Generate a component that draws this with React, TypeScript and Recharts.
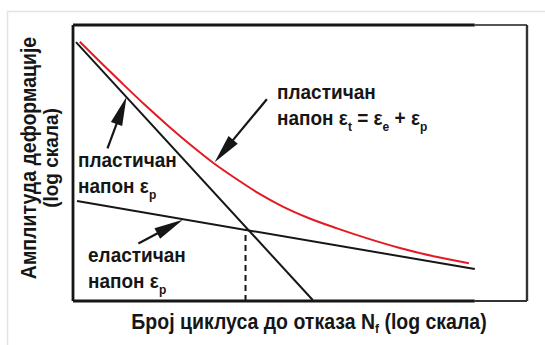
import React from 'react';
import { ComposedChart, Line, XAxis, YAxis, ReferenceLine } from 'recharts';

// Log–log strain-life diagram. Both axes are in relative log units (0–100).

// Plastic strain amplitude line (Coffin–Manson)
const plasticLogN = [0.66, 52.8];
const plasticLogEps = [93.8, 0.36];

// Elastic strain amplitude line (Basquin)
const elasticLogN = [0.88, 88.5];
const elasticLogEps = [36.2, 11.6];

// Total strain amplitude curve
const totalLogN = [1.5, 6, 11, 16, 21, 26, 31, 36, 41, 46, 52, 58, 65, 72, 80, 87.2];
const totalLogEps = [93.9, 86.6, 78.6, 70.8, 63.4, 56.4, 49.9, 44.2, 38.9, 34.4, 30.0, 26.4, 22.6, 19.2, 16.0, 13.7];

// Transition life marker
const transitionLogN = 38;
const transitionLogEps = 25.8;

// Annotation arrows: [tail logN, tail logEps, tip logN, tip logEps]
const arrowTotal = [42.7, 73.1, 31.2, 50.3];
const arrowPlastic = [7.6, 55.3, 11.8, 74.0];
const arrowElastic = [14.4, 20.8, 24.2, 29.4];

const zip = (xs: number[], ys: number[]) => xs.map((x, i) => ({ x, y: ys[i] }));

const plasticData = zip(plasticLogN, plasticLogEps);
const elasticData = zip(elasticLogN, elasticLogEps);
const totalData = zip(totalLogN, totalLogEps);
const transitionData = [
  { x: transitionLogN, y: 0 },
  { x: transitionLogN, y: transitionLogEps },
];

const INK = '#161616';
const RED = '#e31a22';
const FONT = '"Liberation Sans", Arial, Helvetica, sans-serif';

const arrowShape = (props: any) => {
  const { x1, y1, x2, y2 } = props;
  const dx = x2 - x1;
  const dy = y2 - y1;
  const len = Math.hypot(dx, dy);
  const ux = dx / len;
  const uy = dy / len;
  const headLen = 29;
  const halfW = 6;
  const bx = x2 - ux * headLen;
  const by = y2 - uy * headLen;
  const px = -uy;
  const py = ux;
  return (
    <g>
      <line x1={x1} y1={y1} x2={bx + ux * 2} y2={by + uy * 2} stroke={INK} strokeWidth={2.2} />
      <polygon
        points={`${x2},${y2} ${bx + px * halfW},${by + py * halfW} ${bx - px * halfW},${by - py * halfW}`}
        fill={INK}
      />
    </g>
  );
};

const arrow = (a: number[], key: string) => (
  <ReferenceLine
    key={key}
    segment={[
      { x: a[0], y: a[1] },
      { x: a[2], y: a[3] },
    ]}
    shape={arrowShape}
    ifOverflow="visible"
  />
);

const textStyle: React.CSSProperties = {
  fontFamily: FONT,
  fontWeight: 700,
  fontSize: 19,
  fill: INK,
};

const Sub = ({ children }: { children: string }) => (
  <>
    <tspan dy={5} fontSize={12}>
      {children}
    </tspan>
    <tspan dy={-5}> </tspan>
  </>
);

// Bold label, slightly stretched vertically
const Tall = ({
  x,
  y,
  rotate = 0,
  anchor = 'start',
  size = 19,
  children,
}: {
  x: number;
  y: number;
  rotate?: number;
  anchor?: 'start' | 'middle' | 'end';
  size?: number;
  children: React.ReactNode;
}) => (
  <g transform={`translate(${x} ${y}) rotate(${rotate}) scale(1 1.1)`}>
    <text x={0} y={0} textAnchor={anchor} style={{ ...textStyle, fontSize: size }}>
      {children}
    </text>
  </g>
);

export default function App() {
  return (
    <div style={{ position: 'absolute', left: 0, top: 0, width: 545, height: 345, background: '#fff' }}>
      <ComposedChart
        width={545}
        height={345}
        margin={{ top: 25, right: 18, bottom: 44, left: 73 }}
      >
        <XAxis type="number" dataKey="x" domain={[0, 100]} hide allowDataOverflow />
        <YAxis type="number" dataKey="y" domain={[0, 100]} hide allowDataOverflow />

        {/* frame */}
        <ReferenceLine segment={[{ x: 0, y: 100 }, { x: 88.5, y: 100 }]} stroke={INK} strokeWidth={2.8} />
        <ReferenceLine segment={[{ x: 88.5, y: 100 }, { x: 100, y: 100 }]} stroke="#555" strokeWidth={2} />
        <ReferenceLine segment={[{ x: 0, y: 0 }, { x: 88.5, y: 0 }]} stroke={INK} strokeWidth={2.8} />
        <ReferenceLine segment={[{ x: 88.5, y: 0 }, { x: 100, y: 0 }]} stroke="#333" strokeWidth={2.2} />
        <ReferenceLine segment={[{ x: 0, y: 0 }, { x: 0, y: 100 }]} stroke={INK} strokeWidth={2.8} />
        <ReferenceLine segment={[{ x: 100, y: 0 }, { x: 100, y: 100 }]} stroke="#333" strokeWidth={2.4} />

        <Line
          data={transitionData}
          dataKey="y"
          stroke={INK}
          strokeWidth={2}
          strokeDasharray="6 4"
          dot={false}
          isAnimationActive={false}
        />
        <Line data={plasticData} dataKey="y" stroke={INK} strokeWidth={2} dot={false} isAnimationActive={false} />
        <Line data={elasticData} dataKey="y" stroke={INK} strokeWidth={2} dot={false} isAnimationActive={false} />
        <Line
          data={totalData}
          type="monotone"
          dataKey="y"
          stroke={RED}
          strokeWidth={2}
          dot={false}
          isAnimationActive={false}
        />

        {arrow(arrowTotal, 'a1')}
        {arrow(arrowPlastic, 'a2')}
        {arrow(arrowElastic, 'a3')}
      </ComposedChart>

      <svg
        width={545}
        height={345}
        style={{ position: 'absolute', left: 0, top: 0, pointerEvents: 'none' }}
      >
        <path d="M7.5 345 V11.5 H545" fill="none" stroke="#e3e3e3" strokeWidth={1.5} />

        <Tall x={277} y={98.5}>пластичан</Tall>
        <Tall x={277} y={125}>
          напон ε<Sub>t</Sub>= ε<Sub>e</Sub>+ ε<Sub>p</Sub>
        </Tall>

        <Tall x={78} y={166.5}>пластичан</Tall>
        <Tall x={78} y={193}>
          напон ε<Sub>p</Sub>
        </Tall>

        <Tall x={88} y={261.5}>еластичан</Tall>
        <Tall x={88} y={288}>
          напон ε<Sub>p</Sub>
        </Tall>

        <Tall x={309} y={329} anchor="middle" size={19.5}>
          Број циклуса до отказа N<tspan dy={4} fontSize={12}>f</tspan>
          <tspan dy={-4}> (log скала)</tspan>
        </Tall>

        <Tall x={36} y={158} rotate={-90} anchor="middle" size={19.5}>
          Амплитуда деформације
        </Tall>
        <Tall x={58} y={158} rotate={-90} anchor="middle">
          (log скала)
        </Tall>
      </svg>
    </div>
  );
}
